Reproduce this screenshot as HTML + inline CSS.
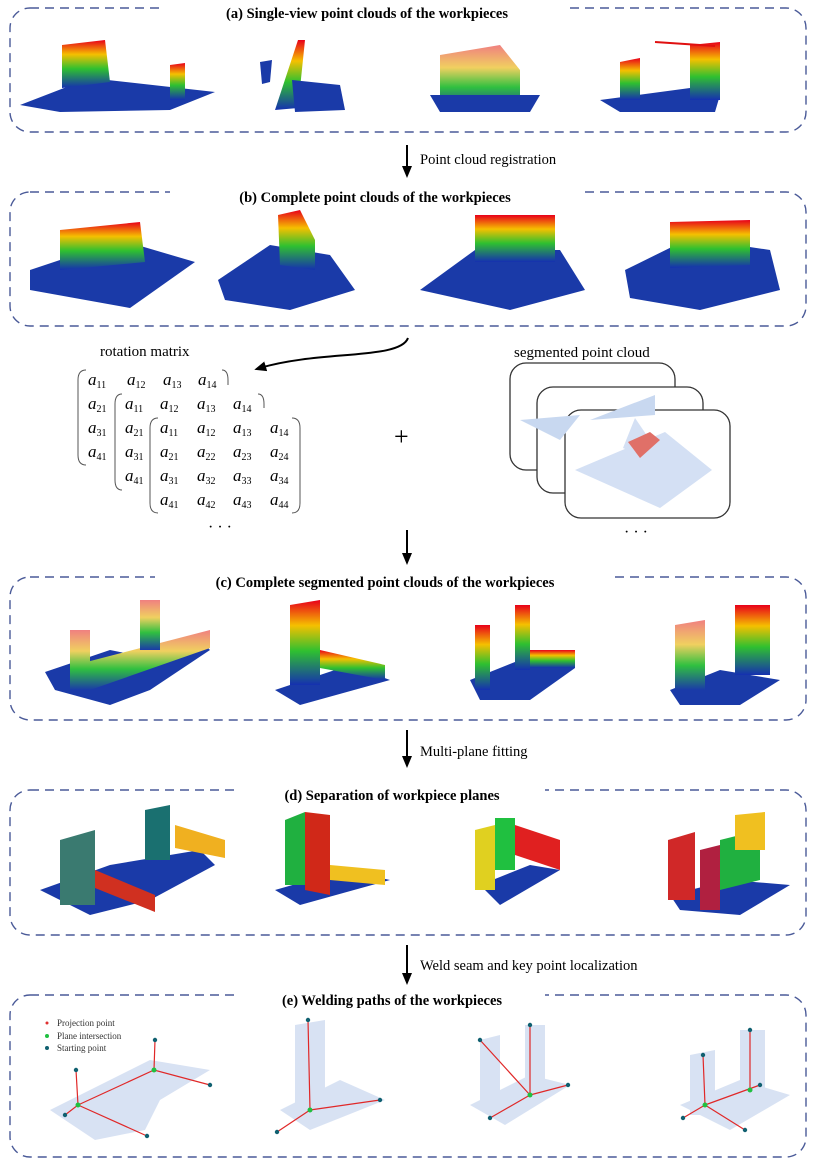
<!DOCTYPE html>
<html><head><meta charset="utf-8"><style>
html,body{margin:0;padding:0;background:#fff}
svg{display:block}
text{font-family:"Liberation Serif",serif}
</style></head><body>
<svg width="815" height="1174" viewBox="0 0 815 1174" xmlns="http://www.w3.org/2000/svg">
<defs>
<linearGradient id="rb" x1="0" y1="0" x2="0" y2="1">
<stop offset="0" stop-color="#e8001a"/><stop offset="0.3" stop-color="#f5c000"/><stop offset="0.6" stop-color="#2fc030"/><stop offset="1" stop-color="#1530b0"/></linearGradient>
<linearGradient id="rb2" x1="0" y1="0" x2="0" y2="1">
<stop offset="0" stop-color="#f08080"/><stop offset="0.35" stop-color="#f0d060"/><stop offset="0.65" stop-color="#30c040"/><stop offset="1" stop-color="#1a3aa8"/></linearGradient>
<marker id="ah" markerUnits="userSpaceOnUse" markerWidth="12" markerHeight="12" refX="6" refY="6" orient="auto"><path d="M0,1 L12,6 L0,11 z" fill="#000"/></marker>
</defs>
<g fill="none" stroke="#4a5a98" stroke-width="1.4" stroke-dasharray="9,6">
<rect x="10" y="8" width="796" height="124" rx="20"/>
<rect x="10" y="192" width="796" height="134" rx="20"/>
<rect x="10" y="577" width="796" height="143" rx="20"/>
<rect x="10" y="790" width="796" height="145" rx="20"/>
<rect x="10" y="995" width="796" height="162" rx="20"/>
</g>
<g font-weight="bold" font-size="14.5" text-anchor="middle">
<rect x="165" y="6" width="405" height="6" fill="#fff"/>
<text x="367" y="18">(a) Single-view point clouds of the workpieces</text>
<rect x="170" y="190" width="410" height="6" fill="#fff"/>
<text x="375" y="202">(b) Complete point clouds of the workpieces</text>
<rect x="155" y="575" width="460" height="6" fill="#fff"/>
<text x="385" y="587">(c) Complete segmented point clouds of the workpieces</text>
<rect x="240" y="788" width="305" height="6" fill="#fff"/>
<text x="392" y="800">(d) Separation of workpiece planes</text>
<rect x="240" y="993" width="305" height="6" fill="#fff"/>
<text x="392" y="1005">(e) Welding paths of the workpieces</text>
</g>
<g stroke="#000" stroke-width="2">
<line x1="407" y1="145" x2="407" y2="172" marker-end="url(#ah)"/>
<line x1="407" y1="530" x2="407" y2="559" marker-end="url(#ah)"/>
<line x1="407" y1="730" x2="407" y2="762" marker-end="url(#ah)"/>
<line x1="407" y1="945" x2="407" y2="979" marker-end="url(#ah)"/>
<path d="M408,338 C400,360 320,350 260,368" fill="none" marker-end="url(#ah)"/>
</g>
<g font-size="14.5">
<text x="420" y="164">Point cloud registration</text>
<text x="420" y="756">Multi-plane fitting</text>
<text x="420" y="970">Weld seam and key point localization</text>
<text x="100" y="356" font-size="15">rotation matrix</text>
<text x="514" y="357" font-size="15">segmented point cloud</text>
<text x="394" y="445" font-size="26">+</text>
<text x="208" y="532" font-size="16">·  ·  ·</text>
<text x="624" y="537" font-size="16">·  ·  ·</text>
</g>
<g font-size="17" font-style="italic">
<text x="88" y="385">a<tspan font-size="10" font-style="normal" dy="3">11</tspan></text>
<text x="127" y="385">a<tspan font-size="10" font-style="normal" dy="3">12</tspan></text>
<text x="163" y="385">a<tspan font-size="10" font-style="normal" dy="3">13</tspan></text>
<text x="198" y="385">a<tspan font-size="10" font-style="normal" dy="3">14</tspan></text>
<text x="88" y="409">a<tspan font-size="10" font-style="normal" dy="3">21</tspan></text>
<text x="88" y="433">a<tspan font-size="10" font-style="normal" dy="3">31</tspan></text>
<text x="88" y="457">a<tspan font-size="10" font-style="normal" dy="3">41</tspan></text>
<text x="125" y="409">a<tspan font-size="10" font-style="normal" dy="3">11</tspan></text>
<text x="160" y="409">a<tspan font-size="10" font-style="normal" dy="3">12</tspan></text>
<text x="197" y="409">a<tspan font-size="10" font-style="normal" dy="3">13</tspan></text>
<text x="233" y="409">a<tspan font-size="10" font-style="normal" dy="3">14</tspan></text>
<text x="125" y="433">a<tspan font-size="10" font-style="normal" dy="3">21</tspan></text>
<text x="125" y="457">a<tspan font-size="10" font-style="normal" dy="3">31</tspan></text>
<text x="125" y="481">a<tspan font-size="10" font-style="normal" dy="3">41</tspan></text>
<text x="160" y="433">a<tspan font-size="10" font-style="normal" dy="3">11</tspan></text>
<text x="197" y="433">a<tspan font-size="10" font-style="normal" dy="3">12</tspan></text>
<text x="233" y="433">a<tspan font-size="10" font-style="normal" dy="3">13</tspan></text>
<text x="270" y="433">a<tspan font-size="10" font-style="normal" dy="3">14</tspan></text>
<text x="160" y="457">a<tspan font-size="10" font-style="normal" dy="3">21</tspan></text>
<text x="197" y="457">a<tspan font-size="10" font-style="normal" dy="3">22</tspan></text>
<text x="233" y="457">a<tspan font-size="10" font-style="normal" dy="3">23</tspan></text>
<text x="270" y="457">a<tspan font-size="10" font-style="normal" dy="3">24</tspan></text>
<text x="160" y="481">a<tspan font-size="10" font-style="normal" dy="3">31</tspan></text>
<text x="197" y="481">a<tspan font-size="10" font-style="normal" dy="3">32</tspan></text>
<text x="233" y="481">a<tspan font-size="10" font-style="normal" dy="3">33</tspan></text>
<text x="270" y="481">a<tspan font-size="10" font-style="normal" dy="3">34</tspan></text>
<text x="160" y="505">a<tspan font-size="10" font-style="normal" dy="3">41</tspan></text>
<text x="197" y="505">a<tspan font-size="10" font-style="normal" dy="3">42</tspan></text>
<text x="233" y="505">a<tspan font-size="10" font-style="normal" dy="3">43</tspan></text>
<text x="270" y="505">a<tspan font-size="10" font-style="normal" dy="3">44</tspan></text>
</g>
<g fill="none" stroke="#555" stroke-width="1">
<path d="M86,370 Q78,370 78,380 L78,455 Q78,465 86,465"/>
<path d="M222,370 Q228,370 228,380 L228,385"/>
<path d="M122,394 Q115,394 115,404 L115,480 Q115,490 122,490"/>
<path d="M258,394 Q264,394 264,404 L264,408"/>
<path d="M158,418 Q150,418 150,428 L150,503 Q150,513 158,513"/>
<path d="M292,418 Q300,418 300,428 L300,503 Q300,513 292,513"/>
</g>
<g stroke="#333" stroke-width="1.3" fill="#fff">
<rect x="510" y="363" width="165" height="107" rx="16"/>
<rect x="537" y="387" width="166" height="106" rx="16"/>
<rect x="565" y="410" width="165" height="108" rx="16"/>
</g>
<polygon points="520,420 580,415 560,440" fill="#c8d8f0"/>
<polygon points="590,420 655,395 655,415" fill="#c8d8f0"/>
<polygon points="575,470 665,432 712,470 660,508" fill="#d4e0f4"/>
<polygon points="623,448 635,418 650,440 645,458" fill="#d4e0f4"/>
<polygon points="628,442 650,432 660,440 640,458" fill="#e07068"/>
<polygon points="20,105 90,78 215,92 170,110 60,112" fill="#1a3aa8"/>
<polygon points="62,45 105,40 110,82 62,88" fill="url(#rb)"/>
<polygon points="170,65 185,63 185,100 170,100" fill="url(#rb)"/>
<polygon points="275,110 298,40 305,40 298,108" fill="url(#rb)"/>
<polygon points="260,62 272,60 270,82 262,84" fill="#1a3aa8"/>
<polygon points="292,80 340,85 345,110 295,112" fill="#1a3aa8"/>
<polygon points="440,55 500,45 520,70 520,110 440,110" fill="url(#rb2)"/>
<polygon points="430,95 540,95 530,112 440,112" fill="#1a3aa8"/>
<polygon points="600,100 690,88 720,95 715,112 620,112" fill="#1a3aa8"/>
<polygon points="620,62 640,58 640,100 620,100" fill="url(#rb)"/>
<polygon points="690,45 720,42 720,100 690,100" fill="url(#rb)"/>
<line x1="655" y1="42" x2="715" y2="46" stroke="#e01010" stroke-width="2"/>
<polygon points="30,270 120,240 195,262 130,308 30,290" fill="#1a3aa8"/>
<polygon points="60,230 140,222 145,262 60,270" fill="url(#rb)"/>
<polygon points="218,280 270,245 330,255 355,290 290,310 225,300" fill="#1a3aa8"/>
<polygon points="278,215 300,210 315,240 315,270 280,265" fill="url(#rb)"/>
<polygon points="420,290 475,250 560,250 585,290 510,310" fill="#1a3aa8"/>
<polygon points="475,215 555,215 555,262 475,262" fill="url(#rb)"/>
<polygon points="625,270 690,238 770,250 780,290 700,310 630,298" fill="#1a3aa8"/>
<polygon points="670,222 750,220 750,265 670,268" fill="url(#rb)"/>
<polygon points="45,672 110,650 160,660 200,640 210,650 150,690 110,705 55,690" fill="#1a3aa8"/>
<polygon points="75,665 210,630 210,648 90,690" fill="url(#rb2)"/>
<polygon points="70,630 90,630 90,690 70,690" fill="url(#rb2)"/>
<polygon points="140,600 160,600 160,650 140,650" fill="url(#rb2)"/>
<polygon points="275,690 350,665 390,680 300,705" fill="#1a3aa8"/>
<polygon points="290,605 320,600 320,685 290,685" fill="url(#rb)"/>
<polygon points="320,650 385,665 385,680 320,668" fill="url(#rb)"/>
<polygon points="470,680 520,660 575,668 530,700 480,700" fill="#1a3aa8"/>
<polygon points="475,625 490,625 490,690 475,690" fill="url(#rb)"/>
<polygon points="515,605 530,605 530,670 515,670" fill="url(#rb)"/>
<polygon points="530,650 575,650 575,668 530,668" fill="url(#rb)"/>
<polygon points="670,690 720,670 780,680 740,705 680,705" fill="#1a3aa8"/>
<polygon points="675,625 705,620 705,690 675,690" fill="url(#rb2)"/>
<polygon points="735,605 770,605 770,675 735,675" fill="url(#rb)"/>
<polygon points="40,890 110,865 200,850 215,865 150,900 90,915" fill="#1a3aa8"/>
<polygon points="60,840 95,830 95,905 60,905" fill="#3a7a70"/>
<polygon points="95,870 155,895 155,912 95,888" fill="#d03020"/>
<polygon points="145,810 170,805 170,860 145,860" fill="#1a7070"/>
<polygon points="175,825 225,840 225,858 175,848" fill="#f0b020"/>
<polygon points="275,890 345,870 390,880 300,905" fill="#1a3aa8"/>
<polygon points="285,820 305,812 305,885 285,885" fill="#20b040"/>
<polygon points="305,812 330,815 330,895 305,890" fill="#d02818"/>
<polygon points="330,865 385,870 385,885 330,880" fill="#f0c020"/>
<polygon points="480,885 530,865 560,870 500,905" fill="#1a3aa8"/>
<polygon points="475,830 495,825 495,890 475,890" fill="#e0d020"/>
<polygon points="495,818 515,818 515,870 495,870" fill="#20c040"/>
<polygon points="515,825 560,840 560,870 515,855" fill="#e02020"/>
<polygon points="670,895 730,880 790,885 740,915 680,910" fill="#1a3aa8"/>
<polygon points="668,840 695,832 695,900 668,900" fill="#d02828"/>
<polygon points="700,850 720,845 720,910 700,910" fill="#b02040"/>
<polygon points="720,840 760,830 760,880 720,890" fill="#20b040"/>
<polygon points="735,815 765,812 765,850 735,850" fill="#f0c020"/>
<g font-size="9" fill="#333">
<circle cx="47" cy="1023" r="1.5" fill="#e03030"/><text x="57" y="1026">Projection point</text>
<circle cx="47" cy="1036" r="2" fill="#20c040"/><text x="57" y="1039">Plane intersection</text>
<circle cx="47" cy="1048" r="2" fill="#106070"/><text x="57" y="1051">Starting point</text>
</g>
<g fill="#c8d6ee" opacity="0.7">
<polygon points="50,1110 150,1060 210,1070 160,1100 145,1130 95,1140"/>
<polygon points="280,1110 340,1080 385,1100 310,1130"/>
<polygon points="470,1105 530,1075 570,1085 505,1125"/>
<polygon points="680,1105 740,1080 790,1095 730,1130"/>
<polygon points="295,1025 325,1020 325,1110 295,1110"/>
<polygon points="480,1040 500,1035 500,1100 480,1100"/>
<polygon points="525,1025 545,1025 545,1085 525,1085"/>
<polygon points="690,1055 715,1050 715,1115 690,1115"/>
<polygon points="740,1030 765,1030 765,1090 740,1090"/>
</g>
<g stroke="#e02828" stroke-width="1.2" fill="none">
<path d="M78,1105 L154,1070 L210,1085 M78,1105 L147,1136 M78,1105 L65,1115 M78,1105 L76,1070 M154,1070 L155,1040"/>
<path d="M310,1110 L308,1020 M310,1110 L380,1100 M310,1110 L277,1132"/>
<path d="M530,1095 L530,1025 M530,1095 L568,1085 M530,1095 L490,1118 M530,1095 L480,1040"/>
<path d="M705,1105 L703,1055 M705,1105 L760,1085 M705,1105 L683,1118 M705,1105 L745,1130 M750,1090 L750,1030"/>
</g>
<g fill="#106070">
<circle cx="76" cy="1070" r="2.2"/><circle cx="65" cy="1115" r="2.2"/><circle cx="147" cy="1136" r="2.2"/><circle cx="155" cy="1040" r="2.2"/><circle cx="210" cy="1085" r="2.2"/>
<circle cx="308" cy="1020" r="2.2"/><circle cx="380" cy="1100" r="2.2"/><circle cx="277" cy="1132" r="2.2"/>
<circle cx="530" cy="1025" r="2.2"/><circle cx="568" cy="1085" r="2.2"/><circle cx="490" cy="1118" r="2.2"/><circle cx="480" cy="1040" r="2.2"/>
<circle cx="703" cy="1055" r="2.2"/><circle cx="760" cy="1085" r="2.2"/><circle cx="683" cy="1118" r="2.2"/><circle cx="745" cy="1130" r="2.2"/><circle cx="750" cy="1030" r="2.2"/>
</g>
<g fill="#20c040">
<circle cx="78" cy="1105" r="2.5"/><circle cx="154" cy="1070" r="2.5"/><circle cx="310" cy="1110" r="2.5"/><circle cx="530" cy="1095" r="2.5"/><circle cx="705" cy="1105" r="2.5"/><circle cx="750" cy="1090" r="2.5"/>
</g>
</svg>
</body></html>
